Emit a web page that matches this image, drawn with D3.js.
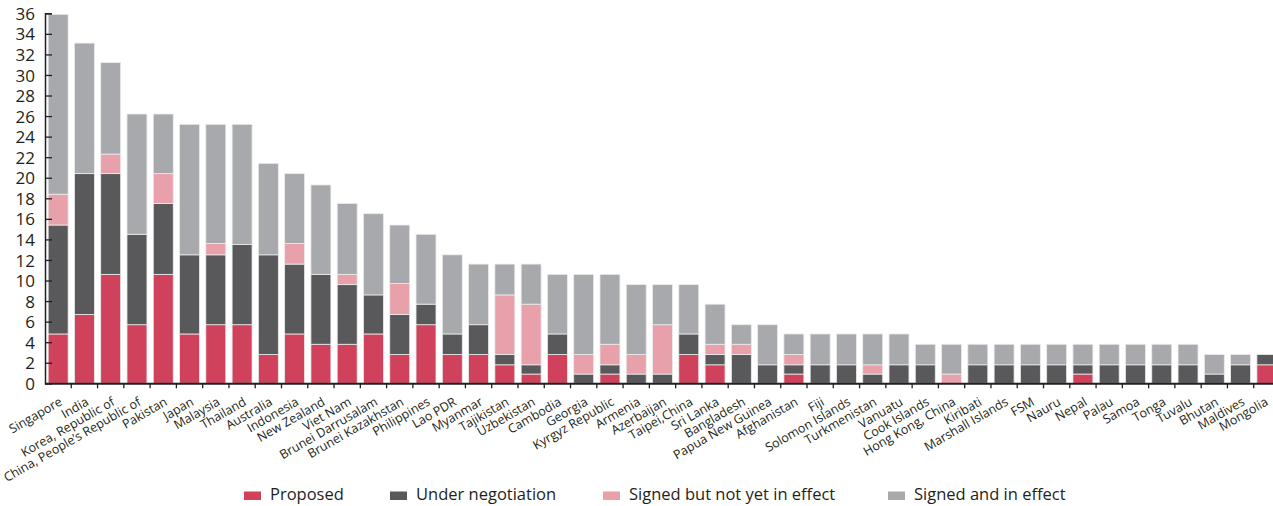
<!DOCTYPE html>
<html>
<head>
<meta charset="utf-8">
<script src="https://cdn.jsdelivr.net/npm/d3@7"></script>
<style>
	body { margin: 0; background: #fff; }
	text { font-family: "Open Sans", "Noto Sans", sans-serif; fill: #231f20; }
</style>
</head>
<body>
<div id="chart"></div>
<script>
	// data
	var countries = ['Singapore', 'India', 'Korea, Republic of', 'China, People\u2019s Republic of', 'Pakistan',
		'Japan', 'Malaysia', 'Thailand', 'Australia', 'Indonesia', 'New Zealand', 'Viet Nam',
		'Brunei Darrusalam', 'Brunei Kazakhstan', 'Philippines', 'Lao PDR', 'Myanmar', 'Tajikistan',
		'Uzbekistan', 'Cambodia', 'Georgia', 'Kyrgyz Republic', 'Armenia', 'Azerbaijan', 'Taipei,China',
		'Sri Lanka', 'Bangladesh', 'Papua New Guinea', 'Afghanistan', 'Fiji', 'Solomon Islands',
		'Turkmenistan', 'Vanuatu', 'Cook Islands', 'Hong Kong, China', 'Kiribati', 'Marshall Islands',
		'FSM', 'Nauru', 'Nepal', 'Palau', 'Samoa', 'Tonga', 'Tuvalu', 'Bhutan', 'Maldives', 'Mongolia'];

	var proposed = [4.8, 6.7, 10.6, 5.7, 10.6, 4.8, 5.7, 5.7, 2.8, 4.8, 3.8, 3.8, 4.8, 2.8, 5.7, 2.8,
		2.8, 1.8, 0.9, 2.8, 0, 0.9, 0, 0, 2.8, 1.8, 0, 0, 0.9, 0, 0, 0, 0, 0, 0, 0, 0, 0, 0, 0.9,
		0, 0, 0, 0, 0, 0, 1.8];
	var underNegotiation = [10.6, 13.7, 9.8, 8.8, 6.9, 7.7, 6.8, 7.8, 9.7, 6.8, 6.8, 5.8, 3.8, 3.9, 2.0, 2.0,
		2.9, 1.0, 0.9, 2.0, 0.9, 0.9, 0.9, 0.9, 2.0, 1.0, 2.8, 1.8, 0.9, 1.8, 1.8, 0.9, 1.8, 1.8, 0, 1.8,
		1.8, 1.8, 1.8, 0.9, 1.8, 1.8, 1.8, 1.8, 0.9, 1.8, 1.0];
	var signedNotInEffect = [3.0, 0, 1.9, 0, 2.9, 0, 1.1, 0, 0, 2.0, 0, 1.0, 0, 3.0, 0, 0,
		0, 5.8, 5.9, 0, 1.9, 2.0, 1.9, 4.8, 0, 1.0, 1.0, 0, 1.0, 0, 0, 0.9, 0, 0, 0.9, 0,
		0, 0, 0, 0, 0, 0, 0, 0, 0, 0, 0];
	var signedInEffect = [17.5, 12.7, 8.9, 11.7, 5.8, 12.7, 11.6, 11.7, 8.9, 6.8, 8.7, 6.9, 7.9, 5.7, 6.8, 7.7,
		5.9, 3.0, 3.9, 5.8, 7.8, 6.8, 6.8, 3.9, 4.8, 3.9, 1.9, 3.9, 2.0, 3.0, 3.0, 3.0, 3.0, 2.0, 2.9, 2.0,
		2.0, 2.0, 2.0, 2.0, 2.0, 2.0, 2.0, 2.0, 1.9, 1.0, 0];

	var seriesNames = ['Proposed', 'Under negotiation', 'Signed but not yet in effect', 'Signed and in effect'];
	var seriesColors = ['#d0415b', '#59595c', '#e8a0ab', '#a8a9ac'];
	var yTicks = d3.range(0, 37, 2);

	var width = 1273, height = 506;
	var margin = { top: 13.3, right: -7, bottom: 122.7, left: 45 };
	var legendX = [244, 390, 603, 888];

	var rows = countries.map(function(c, i) {
		return { country: c, s0: proposed[i], s1: underNegotiation[i], s2: signedNotInEffect[i], s3: signedInEffect[i] };
	});
	var stacked = d3.stack().keys(['s0', 's1', 's2', 's3'])(rows);

	var x = d3.scaleBand()
		.domain(countries)
		.range([margin.left, width - margin.right])
		.paddingInner(0.24)
		.paddingOuter(0.12);
	var y = d3.scaleLinear()
		.domain([0, 36])
		.range([height - margin.bottom, margin.top]);

	var svg = d3.select('#chart').append('svg')
		.attr('width', width).attr('height', height);

	// bars
	svg.append('g').selectAll('g')
		.data(stacked)
		.join('g')
		.attr('fill', (d, i) => seriesColors[i])
		.selectAll('rect')
		.data(d => d.filter(s => s[1] - s[0] > 0))
		.join('rect')
		.attr('x', d => x(d.data.country))
		.attr('width', x.bandwidth())
		.attr('y', d => y(d[1]))
		.attr('height', d => y(d[0]) - y(d[1]))
		.attr('stroke', '#ececec')
		.attr('stroke-width', 0.8);

	// y axis
	var yAxis = svg.append('g')
		.attr('transform', 'translate(' + margin.left + ',0)')
		.call(d3.axisRight(y).tickValues(yTicks).tickSize(7).tickFormat(d3.format('d')));
	yAxis.select('.domain').attr('stroke', '#231f20').attr('stroke-width', 1.5);
	yAxis.selectAll('.tick line').attr('stroke', '#231f20').attr('stroke-width', 1.3);
	yAxis.selectAll('.tick text')
		.attr('x', -10)
		.attr('dy', '0.36em')
		.attr('text-anchor', 'end')
		.style('font-size', '17px')
		.style('font-family', '"Open Sans", sans-serif')
		.attr('fill', '#231f20');

	// x axis
	var x0 = y(0);
	var xAxis = svg.append('g');
	xAxis.append('line')
		.attr('x1', margin.left).attr('x2', width)
		.attr('y1', x0 + 0.5).attr('y2', x0 + 0.5)
		.attr('stroke', '#231f20').attr('stroke-width', 2);
	xAxis.selectAll('.xtick')
		.data(countries.slice(1))
		.join('line')
		.attr('class', 'xtick')
		.attr('x1', d => x(d) - x.step() * x.paddingInner() / 2)
		.attr('x2', d => x(d) - x.step() * x.paddingInner() / 2)
		.attr('y1', x0).attr('y2', x0 + 5)
		.attr('stroke', '#231f20').attr('stroke-width', 1.3);
	xAxis.selectAll('.xlabel')
		.data(countries)
		.join('text')
		.attr('class', 'xlabel')
		.attr('text-anchor', 'end')
		.attr('transform', d => 'translate(' + Math.min(x(d) + x.bandwidth() / 2 + 5, width - 4) + ',' + (x0 + 21) + ') rotate(-30)')
		.style('font-size', '12.5px')
		.text(d => d);

	// legend
	var legend = svg.append('g').attr('transform', 'translate(0,500)');
	seriesNames.forEach(function(name, i) {
		legend.append('rect')
			.attr('x', legendX[i]).attr('y', -8.5)
			.attr('width', 17).attr('height', 8.5)
			.attr('fill', seriesColors[i]);
		legend.append('text')
			.attr('x', legendX[i] + 26).attr('y', 0)
			.style('font-size', '16.5px')
			.text(name);
	});
</script>
</body>
</html>
